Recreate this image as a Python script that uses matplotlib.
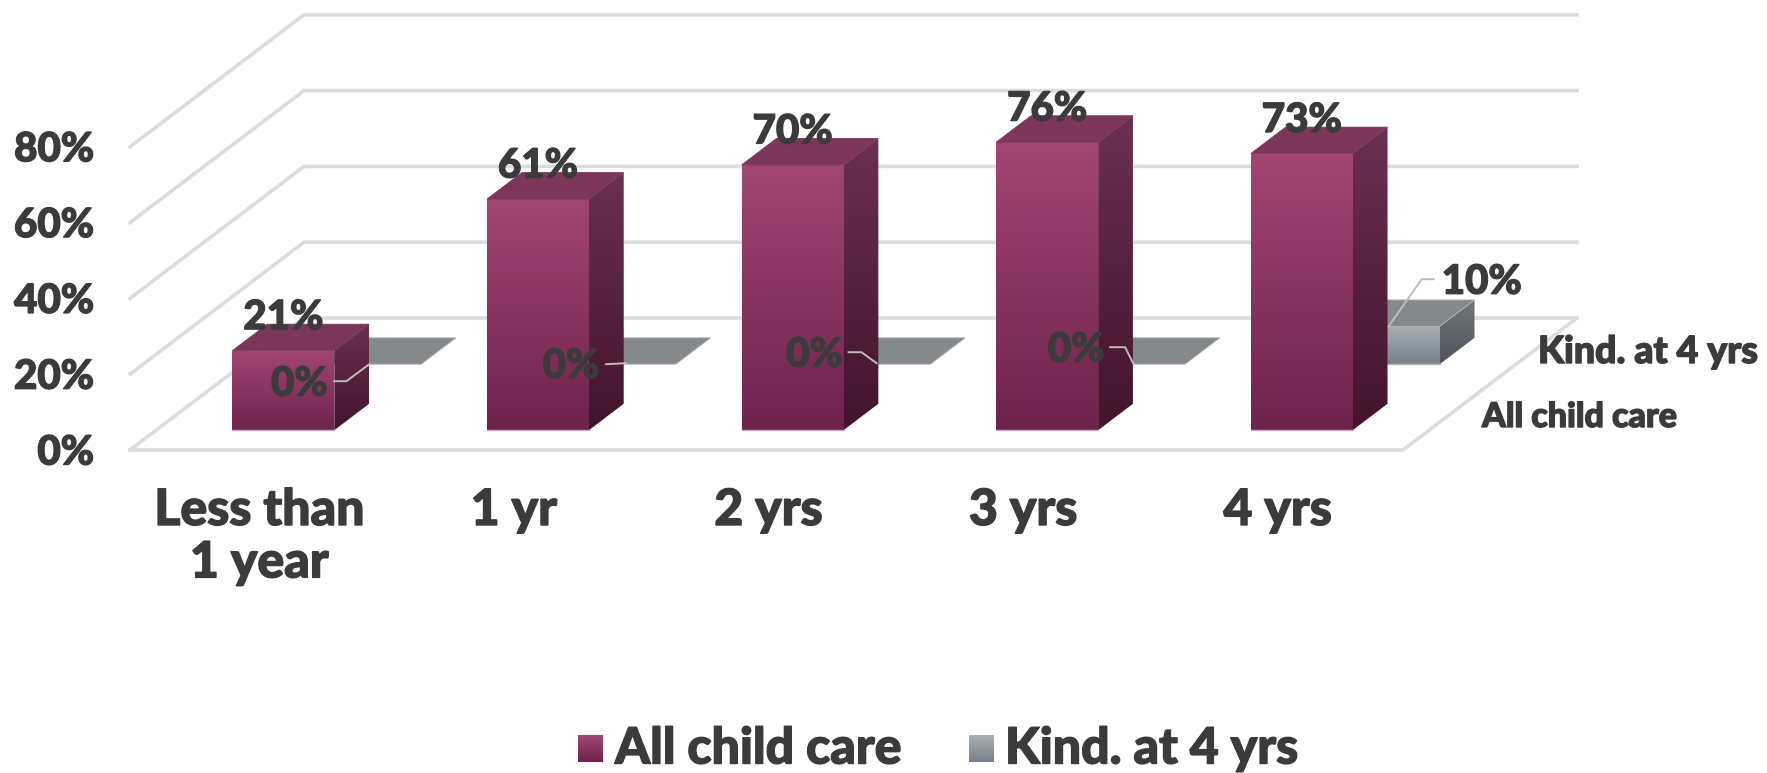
import numpy as np
import matplotlib
matplotlib.use("Agg")
import matplotlib.pyplot as plt
import matplotlib.patheffects as pe
from matplotlib.patches import Polygon
from matplotlib.colors import LinearSegmentedColormap

# Share of children by years in care
categories = ["Less than\n1 year", "1 yr", "2 yrs", "3 yrs", "4 yrs"]
all_child_care = [21, 61, 70, 76, 73]
kind_at_4 = [0, 0, 0, 0, 10]
y_ticks = [0, 20, 40, 60, 80]
series_names = ["All child care", "Kind. at 4 yrs"]

FONT = "Lato"
WEIGHT = 900
INK = "#3B3B3B"
GRID = "#DCDCDC"
LEADER = "#BDBDBD"

# Oblique projection: (category, depth, percent) to canvas pixels
ORIGIN_X, ORIGIN_Y = 130.0, 450.0
CAT_W = 254.6
DEPTH_X, DEPTH_Y = 174.0, 132.0
PCT_H = 3.79
BAR_W = 0.40
BAR_D = 0.20
ROW_D = [0.15, 0.65]


def project(x, d, v):
    return (ORIGIN_X + x * CAT_W + d * DEPTH_X, ORIGIN_Y - d * DEPTH_Y - v * PCT_H)


fig = plt.figure(figsize=(17.67, 7.73), dpi=100)
ax = fig.add_axes([0, 0, 1, 1])
ax.set_axis_off()


def gradient_poly(points, top, bottom, z):
    cmap = LinearSegmentedColormap.from_list("face", [top, bottom])
    pts = np.array(points)
    x0, x1 = pts[:, 0].min(), pts[:, 0].max()
    y0, y1 = pts[:, 1].min(), pts[:, 1].max()
    if y1 - y0 < 0.5:
        return
    im = ax.imshow(np.linspace(0, 1, 256).reshape(-1, 1), cmap=cmap, aspect="auto",
                   extent=(x0, x1, y1, y0), zorder=z, interpolation="bilinear")
    clip = Polygon(points, closed=True, transform=ax.transData, facecolor="none", edgecolor="none")
    ax.add_patch(clip)
    im.set_clip_path(clip)


def draw_bar(i, row, value, styles, z):
    x0, x1 = i + 0.5 - BAR_W / 2, i + 0.5 + BAR_W / 2
    d0 = ROW_D[row]
    d1 = d0 + BAR_D
    top = Polygon([project(x0, d0, value), project(x1, d0, value),
                   project(x1, d1, value), project(x0, d1, value)], closed=True,
                  facecolor=styles["top"], edgecolor=styles["top_edge"], linewidth=0.6, zorder=z + 0.2)
    ax.add_patch(top)
    gradient_poly([project(x1, d0, 0), project(x1, d1, 0), project(x1, d1, value), project(x1, d0, value)],
                  styles["side"][0], styles["side"][1], z)
    gradient_poly([project(x0, d0, 0), project(x1, d0, 0), project(x1, d0, value), project(x0, d0, value)],
                  styles["front"][0], styles["front"][1], z + 0.1)
    if value > 0:
        a, b = project(x0, d0, 0), project(x1, d0, 0)
        ax.plot([a[0], b[0]], [a[1], b[1]], color=styles["rim"], lw=1.0, zorder=z + 0.3)


MAROON = dict(front=("#A24672", "#6E234C"), side=("#6B3052", "#43132D"),
              top="#7C3659", top_edge="#7C3659", rim="#C3AEBB")
SLATE = dict(front=("#A9AFB5", "#75818A"), side=("#71787C", "#4E555A"),
             top="#84898C", top_edge="#B4B8BB", rim="#B4B8BB")

# Walls and floor
for v in y_ticks:
    a, b, c = project(0, 0, v), project(0, 1, v), project(5, 1, v)
    ax.plot([a[0], b[0], c[0]], [a[1], b[1], c[1]], color=GRID, lw=2.6, zorder=1, solid_joinstyle="miter")
fl = [project(0, 0, 0), project(5, 0, 0), project(5, 1, 0)]
ax.plot([p[0] for p in fl], [p[1] for p in fl], color=GRID, lw=2.6, zorder=1, solid_joinstyle="miter")

# Back row first so the front row overlaps it
for i, v in enumerate(kind_at_4):
    draw_bar(i, 1, v, SLATE, 3)
for i, v in enumerate(all_child_care):
    draw_bar(i, 0, v, MAROON, 5)

# The stroke thickens the glyphs to an extra-heavy look
heavy = [pe.withStroke(linewidth=1.0, foreground=INK)]
label_kw = dict(family=FONT, weight=WEIGHT, color=INK, zorder=10, path_effects=heavy)

# Tick labels on the value and category axes
for v in y_ticks:
    px, py = project(0, 0, v)
    ax.text(px - 36, py + 3, f"{v}%", ha="right", va="center", fontsize=29, **label_kw)
for i, c in enumerate(categories):
    px, py = project(i + 0.5, 0, 0)
    ax.text(px + 2, py + 38, c, ha="center", va="top", fontsize=36, linespacing=1.2, **label_kw)

# Depth axis labels
ax.text(1538, 352, series_names[1], ha="left", va="center", fontsize=27, **label_kw)
ax.text(1482, 417, series_names[0], ha="left", va="center", fontsize=24.5, **label_kw)

# Value labels on the front row
for i, v in enumerate(all_child_care):
    px, py = project(i + 0.5, ROW_D[0], v)
    ax.text(px, py - 33, f"{v}%", ha="center", va="center", fontsize=29, **label_kw)

# Value labels and leader lines on the back row, offset from each bar's front right floor corner
kind_label_offset = [(-122, 20), (-105, 2), (-116, -9), (-109, -14), (42, -82)]
kind_leader_path = [[(-87, 17), (-75, 17), (-52, 0)],
                    [(-70, 0), (-50, -1)],
                    [(-82, -12), (-69, -12), (-54, -1)],
                    [(-75, -17), (-60, -17), (-52, -1)],
                    [(-6, -85), (-18, -85), (-51, -38)]]
for i, v in enumerate(kind_at_4):
    cx, cy = project(i + 0.5 + BAR_W / 2, ROW_D[1], 0)
    ox, oy = kind_label_offset[i]
    ax.text(cx + ox, cy + oy, f"{v}%", ha="center", va="center", fontsize=29, **label_kw)
    path = kind_leader_path[i]
    ax.plot([cx + p[0] for p in path], [cy + p[1] for p in path], color=LEADER, lw=1.4, zorder=9)

# Legend
legend_items = [(578, 615, MAROON), (969, 1005, SLATE)]
for name, (sx, tx, style) in zip(series_names, legend_items):
    gradient_poly([(sx, 735), (sx + 25, 735), (sx + 25, 762), (sx, 762)], style["front"][0], style["front"][1], 5)
    ax.text(tx, 749, name, ha="left", va="center", fontsize=36, **label_kw)

ax.set_xlim(0, 1767)
ax.set_ylim(773, 0)
fig.savefig("out.png", dpi=100, facecolor="white")
